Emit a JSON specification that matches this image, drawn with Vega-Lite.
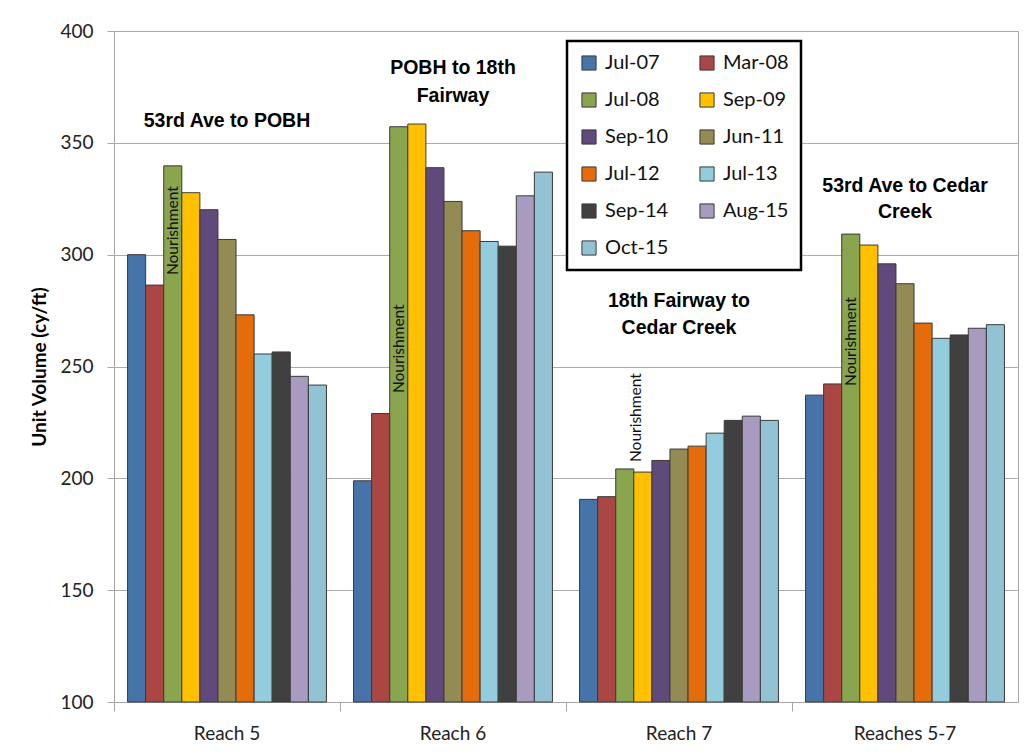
{
  "$schema": "https://vega.github.io/schema/vega-lite/v6.json",
  "width": 904,
  "height": 671,
  "autosize": {"type": "none"},
  "padding": {"left": 114, "top": 31, "right": 8, "bottom": 54},
  "background": "white",
  "config": {"font": "Lato", "view": {"stroke": "#A6A6A6", "strokeWidth": 1}},
  "datasets": {
    "bars": [
      {"reach": "Reach 5", "date": "Jul-07", "v": 300},
      {"reach": "Reach 5", "date": "Mar-08", "v": 286.4},
      {"reach": "Reach 5", "date": "Jul-08", "v": 339.7},
      {"reach": "Reach 5", "date": "Sep-09", "v": 327.7},
      {"reach": "Reach 5", "date": "Sep-10", "v": 320.1},
      {"reach": "Reach 5", "date": "Jun-11", "v": 306.8},
      {"reach": "Reach 5", "date": "Jul-12", "v": 273.1},
      {"reach": "Reach 5", "date": "Jul-13", "v": 255.6},
      {"reach": "Reach 5", "date": "Sep-14", "v": 256.5},
      {"reach": "Reach 5", "date": "Aug-15", "v": 245.6},
      {"reach": "Reach 5", "date": "Oct-15", "v": 241.7},
      {"reach": "Reach 6", "date": "Jul-07", "v": 198.9},
      {"reach": "Reach 6", "date": "Mar-08", "v": 229.0},
      {"reach": "Reach 6", "date": "Jul-08", "v": 357.2},
      {"reach": "Reach 6", "date": "Sep-09", "v": 358.4},
      {"reach": "Reach 6", "date": "Sep-10", "v": 338.9},
      {"reach": "Reach 6", "date": "Jun-11", "v": 323.8},
      {"reach": "Reach 6", "date": "Jul-12", "v": 310.7},
      {"reach": "Reach 6", "date": "Jul-13", "v": 305.9},
      {"reach": "Reach 6", "date": "Sep-14", "v": 303.8},
      {"reach": "Reach 6", "date": "Aug-15", "v": 326.3},
      {"reach": "Reach 6", "date": "Oct-15", "v": 336.9},
      {"reach": "Reach 7", "date": "Jul-07", "v": 190.6},
      {"reach": "Reach 7", "date": "Mar-08", "v": 191.8},
      {"reach": "Reach 7", "date": "Jul-08", "v": 204.2},
      {"reach": "Reach 7", "date": "Sep-09", "v": 202.8},
      {"reach": "Reach 7", "date": "Sep-10", "v": 208.0},
      {"reach": "Reach 7", "date": "Jun-11", "v": 213.1},
      {"reach": "Reach 7", "date": "Jul-12", "v": 214.4},
      {"reach": "Reach 7", "date": "Jul-13", "v": 220.2},
      {"reach": "Reach 7", "date": "Sep-14", "v": 225.9},
      {"reach": "Reach 7", "date": "Aug-15", "v": 227.8},
      {"reach": "Reach 7", "date": "Oct-15", "v": 225.9},
      {"reach": "Reaches 5-7", "date": "Jul-07", "v": 237.2},
      {"reach": "Reaches 5-7", "date": "Mar-08", "v": 242.2},
      {"reach": "Reaches 5-7", "date": "Jul-08", "v": 309.2},
      {"reach": "Reaches 5-7", "date": "Sep-09", "v": 304.3},
      {"reach": "Reaches 5-7", "date": "Sep-10", "v": 295.9},
      {"reach": "Reaches 5-7", "date": "Jun-11", "v": 287.0},
      {"reach": "Reaches 5-7", "date": "Jul-12", "v": 269.4},
      {"reach": "Reaches 5-7", "date": "Jul-13", "v": 262.6},
      {"reach": "Reaches 5-7", "date": "Sep-14", "v": 264.1},
      {"reach": "Reaches 5-7", "date": "Aug-15", "v": 267.1},
      {"reach": "Reaches 5-7", "date": "Oct-15", "v": 268.7}
    ],
    "titles": [
      {"reach": "Reach 5", "label": "53rd Ave to POBH", "v": 359.7},
      {"reach": "Reach 6", "label": "POBH to 18th", "v": 383.4},
      {"reach": "Reach 6", "label": "Fairway", "v": 370.9},
      {"reach": "Reach 7", "label": "18th Fairway to", "v": 279.3},
      {"reach": "Reach 7", "label": "Cedar Creek", "v": 267.2},
      {"reach": "Reaches 5-7", "label": "53rd Ave to Cedar", "v": 330.7},
      {"reach": "Reaches 5-7", "label": "Creek", "v": 319.0}
    ],
    "nour": [
      {"reach": "Reach 5", "date": "Jul-08", "label": "Nourishment", "v": 290.9},
      {"reach": "Reach 6", "date": "Jul-08", "label": "Nourishment", "v": 238.1},
      {"reach": "Reaches 5-7", "date": "Jul-08", "label": "Nourishment", "v": 241.3}
    ],
    "nour7": [
      {"reach": "Reach 7", "date": "Jul-08", "label": "Nourishment", "v": 207.3}
    ]
  },
  "encoding": {
    "x": {
      "field": "reach",
      "type": "nominal",
      "sort": ["Reach 5", "Reach 6", "Reach 7", "Reaches 5-7"],
      "scale": {"paddingInner": 0, "paddingOuter": 0},
      "axis": {
        "title": null,
        "bandPosition": 0,
        "labelAngle": 0,
        "labelPadding": 13,
        "labelFontSize": 19,
        "labelColor": "#222222",
        "tickSize": 9,
        "tickColor": "#A6A6A6",
        "domainColor": "#A6A6A6"
      }
    },
    "y": {
      "field": "v",
      "type": "quantitative",
      "scale": {"domain": [100, 400], "nice": false, "zero": false},
      "axis": {
        "title": "Unit Volume (cy/ft)",
        "titleFontSize": 19,
        "titleFontWeight": "bold",
        "titleColor": "#000000",
        "titlePadding": 10,
        "values": [100, 150, 200, 250, 300, 350, 400],
        "grid": true,
        "gridColor": "#ABABAB",
        "labelFontSize": 19,
        "labelColor": "#222222",
        "labelPadding": 14,
        "tickSize": 7,
        "tickColor": "#A6A6A6",
        "domainColor": "#A6A6A6"
      }
    }
  },
  "layer": [
    {
      "data": {"name": "bars"},
      "mark": {"type": "bar", "stroke": "#3A3A3A", "strokeWidth": 1},
      "encoding": {
        "xOffset": {
          "field": "date",
          "type": "nominal",
          "scale": {
            "domain": ["Jul-07", "Mar-08", "Jul-08", "Sep-09", "Sep-10", "Jun-11", "Jul-12", "Jul-13", "Sep-14", "Aug-15", "Oct-15"],
            "paddingInner": 0, "paddingOuter": 0.75}
        },
        "y2": {"datum": 100},
        "color": {
          "field": "date",
          "type": "nominal",
          "scale": {
            "domain": ["Jul-07", "Mar-08", "Jul-08", "Sep-09", "Sep-10", "Jun-11", "Jul-12", "Jul-13", "Sep-14", "Aug-15", "Oct-15"],
            "range": ["#4673A8", "#AA4643", "#89A54E", "#FFC000", "#604A7B", "#948A54", "#E46C0A", "#93CDDD", "#404040", "#A99BC0", "#92C3D5"]
          },
          "legend": {
            "title": null,
            "orient": "none",
            "legendX": 453,
            "legendY": 10,
            "columns": 2,
            "gridAlign": "all",
            "direction": "horizontal",
            "symbolType": "square",
            "symbolSize": 200,
            "symbolStrokeColor": "#3A3A3A",
            "symbolStrokeWidth": 1,
            "labelFontSize": 20,
            "labelColor": "#111111",
            "labelOffset": 6,
            "rowPadding": 17,
            "columnPadding": 26,
            "padding": 12,
            "strokeColor": "#000000",
            "fillColor": "white",
            "encode": {"legend": {"update": {"strokeWidth": {"value": 2.5}}}}
          }
        }
      }
    },
    {
      "data": {"name": "titles"},
      "mark": {"type": "text", "font": "Liberation Sans", "fontWeight": "bold", "fontSize": 19.5, "color": "#000000", "align": "center", "baseline": "middle"},
      "encoding": {"text": {"field": "label"}}
    },
    {
      "data": {"name": "nour"},
      "mark": {"type": "text", "angle": 270, "align": "left", "baseline": "middle", "fontSize": 15.5, "color": "#111111"},
      "encoding": {
        "xOffset": {"field": "date", "type": "nominal"},
        "text": {"field": "label"}
      }
    },
    {
      "data": {"name": "nour7"},
      "mark": {"type": "text", "angle": 270, "align": "left", "baseline": "middle", "fontSize": 15.5, "color": "#111111", "dy": 11},
      "encoding": {
        "xOffset": {"field": "date", "type": "nominal"},
        "text": {"field": "label"}
      }
    }
  ]
}
